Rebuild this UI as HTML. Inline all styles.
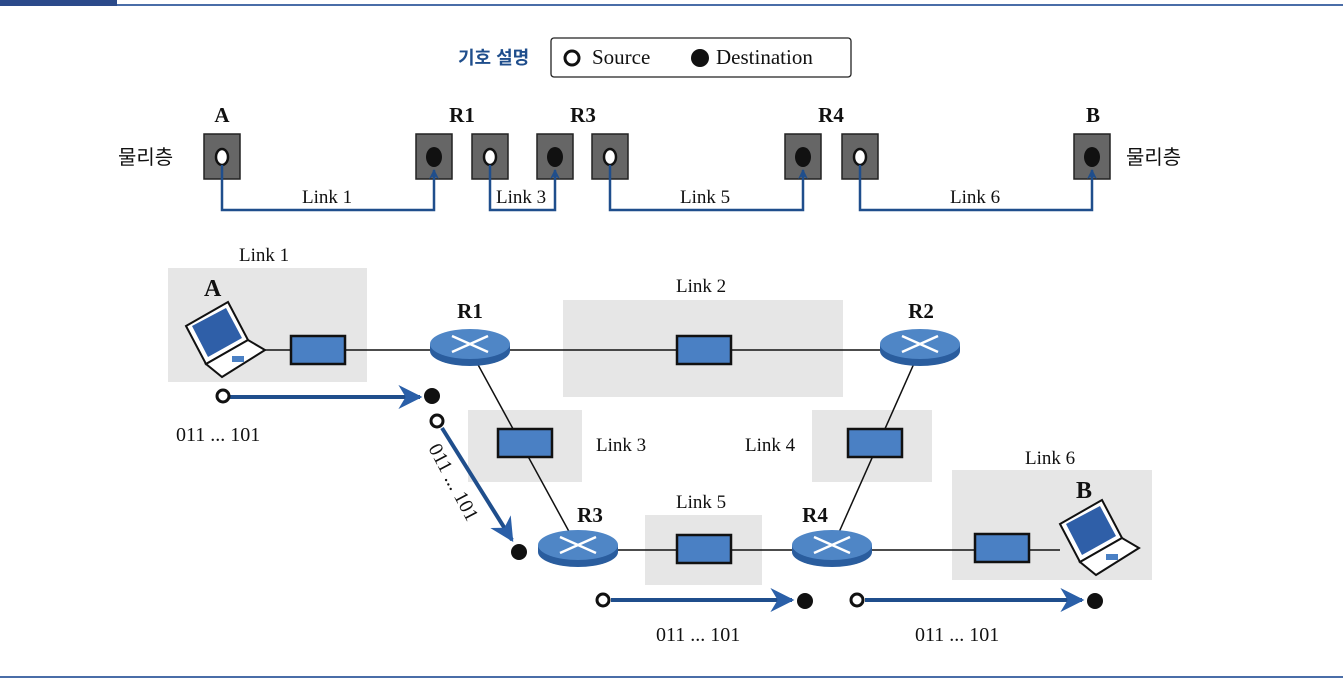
<!DOCTYPE html>
<html><head><meta charset="utf-8"><style>
html,body{margin:0;padding:0;background:#fff}
svg{display:block}
text{font-family:"Liberation Serif",serif;font-size:19px;fill:#111}
.k{font-family:"Liberation Sans","Noto Sans CJK KR",sans-serif;font-size:20px}
.b{font-weight:bold;font-size:21px}
</style></head><body>
<svg width="1343" height="692" viewBox="0 0 1343 692" xmlns="http://www.w3.org/2000/svg">
<defs>
<marker id="ah" viewBox="0 0 10 10" refX="9" refY="5" markerWidth="4" markerHeight="4" orient="auto"><path d="M0,0L10,5L0,10L3,5z" fill="#1f4e8c"/></marker>
<marker id="as" viewBox="0 0 10 10" refX="9" refY="5" markerWidth="6" markerHeight="6" orient="auto"><path d="M0,0L10,5L0,10L3,5z" fill="#2a5fa8"/></marker>
<g id="rt"><path d="M-40,0 v7 a40,15 0 0 0 80,0 v-7z" fill="#2a5d9e"/><ellipse cx="0" cy="0" rx="40" ry="15" fill="#4f86c6"/><path d="M-18,-8L18,8M-18,8L18,-8" stroke="#fff" stroke-width="2.5"/></g>
<g id="lb"><rect x="-27" y="-14" width="54" height="28" fill="#4a80c4" stroke="#111" stroke-width="2.5"/></g>
<g id="lt"><path d="M0,24 L42,0 L62,38 L20,62z" fill="#fff" stroke="#111" stroke-width="2"/><path d="M6,24 L40,6 L56,36 L22,55z" fill="#2f5fa8"/><path d="M20,62 L62,38 L79,48 L36,75z" fill="#fff" stroke="#111" stroke-width="2"/><rect x="46" y="54" width="12" height="6" fill="#4a80c4"/></g>
</defs>
<rect x="0" y="0" width="117" height="6" fill="#2b4a8a"/>
<line x1="117" y1="5" x2="1343" y2="5" stroke="#4a6da8" stroke-width="2"/>
<line x1="0" y1="677" x2="1343" y2="677" stroke="#4a6da8" stroke-width="2"/>

<text x="458" y="64" class="k" style="font-weight:bold;fill:#1f4e8c;font-size:18px">기호 설명</text>
<rect x="551" y="38" width="300" height="39" rx="3" fill="#fff" stroke="#222" stroke-width="1.3"/>
<circle cx="572" cy="58" r="7" fill="#fff" stroke="#111" stroke-width="3"/>
<text x="592" y="64" style="font-size:21px">Source</text>
<circle cx="700" cy="58" r="9" fill="#111"/>
<text x="716" y="64" style="font-size:21px">Destination</text>

<text x="222" y="122" text-anchor="middle" class="b">A</text>
<text x="462" y="122" text-anchor="middle" class="b">R1</text>
<text x="583" y="122" text-anchor="middle" class="b">R3</text>
<text x="831" y="122" text-anchor="middle" class="b">R4</text>
<text x="1093" y="122" text-anchor="middle" class="b">B</text>
<text x="118" y="164" class="k">물리층</text>
<text x="1126" y="164" class="k">물리층</text>
<g fill="#666" stroke="#222" stroke-width="1.5">
<rect x="204" y="134" width="36" height="45"/><rect x="416" y="134" width="36" height="45"/><rect x="472" y="134" width="36" height="45"/><rect x="537" y="134" width="36" height="45"/><rect x="592" y="134" width="36" height="45"/><rect x="785" y="134" width="36" height="45"/><rect x="842" y="134" width="36" height="45"/><rect x="1074" y="134" width="36" height="45"/>
</g>
<g fill="#fff" stroke="#111" stroke-width="2.5">
<ellipse cx="222" cy="157" rx="6" ry="8"/><ellipse cx="490" cy="157" rx="6" ry="8"/><ellipse cx="610" cy="157" rx="6" ry="8"/><ellipse cx="860" cy="157" rx="6" ry="8"/>
</g>
<g fill="#111">
<ellipse cx="434" cy="157" rx="8" ry="10"/><ellipse cx="555" cy="157" rx="8" ry="10"/><ellipse cx="803" cy="157" rx="8" ry="10"/><ellipse cx="1092" cy="157" rx="8" ry="10"/>
</g>
<g fill="none" stroke="#1f4e8c" stroke-width="2.5" marker-end="url(#ah)">
<path d="M222,165V210H434V170"/><path d="M490,165V210H555V170"/><path d="M610,165V210H803V170"/><path d="M860,165V210H1092V170"/>
</g>
<text x="302" y="203">Link 1</text><text x="496" y="203">Link 3</text><text x="680" y="203">Link 5</text><text x="950" y="203">Link 6</text>

<g fill="#e6e6e6">
<rect x="168" y="268" width="199" height="114"/><rect x="563" y="300" width="280" height="97"/><rect x="468" y="410" width="114" height="72"/><rect x="812" y="410" width="120" height="72"/><rect x="645" y="515" width="117" height="70"/><rect x="952" y="470" width="200" height="110"/>
</g>
<g stroke="#111" stroke-width="1.5">
<line x1="262" y1="350" x2="470" y2="350"/><line x1="470" y1="350" x2="920" y2="350"/><line x1="470" y1="350" x2="578" y2="548"/><line x1="920" y1="350" x2="832" y2="548"/><line x1="578" y1="550" x2="1060" y2="550"/>
</g>
<use href="#lb" x="318" y="350"/><use href="#lb" x="704" y="350"/><use href="#lb" x="525" y="443"/><use href="#lb" x="875" y="443"/><use href="#lb" x="704" y="549"/><use href="#lb" x="1002" y="548"/>
<use href="#rt" x="470" y="344"/><use href="#rt" x="920" y="344"/><use href="#rt" x="578" y="545"/><use href="#rt" x="832" y="545"/>
<use href="#lt" x="186" y="302"/><use href="#lt" x="1060" y="500"/>
<text x="204" y="296" class="b" style="font-size:24px">A</text><text x="1076" y="498" class="b" style="font-size:24px">B</text>
<text x="470" y="318" text-anchor="middle" class="b">R1</text><text x="921" y="318" text-anchor="middle" class="b">R2</text>
<text x="590" y="522" text-anchor="middle" class="b">R3</text><text x="815" y="522" text-anchor="middle" class="b">R4</text>
<text x="239" y="261">Link 1</text><text x="676" y="292">Link 2</text><text x="596" y="451">Link 3</text><text x="745" y="451">Link 4</text><text x="676" y="508">Link 5</text><text x="1025" y="464">Link 6</text>

<g stroke="#1f4e8c" stroke-width="4" fill="none" marker-end="url(#as)">
<line x1="230" y1="397" x2="420" y2="397"/><line x1="442" y1="428" x2="512" y2="540"/><line x1="611" y1="600" x2="792" y2="600"/><line x1="865" y1="600" x2="1082" y2="600"/>
</g>
<g fill="#fff" stroke="#111" stroke-width="3">
<circle cx="223" cy="396" r="6"/><circle cx="437" cy="421" r="6"/><circle cx="603" cy="600" r="6"/><circle cx="857" cy="600" r="6"/>
</g>
<g fill="#111"><circle cx="432" cy="396" r="8"/><circle cx="519" cy="552" r="8"/><circle cx="805" cy="601" r="8"/><circle cx="1095" cy="601" r="8"/></g>
<text x="176" y="441" style="font-size:20px">011 ...  101</text><text x="656" y="641" style="font-size:20px">011 ...  101</text><text x="915" y="641" style="font-size:20px">011 ...  101</text>
<text transform="translate(428,448) rotate(62)" style="font-size:20px">011 ...  101</text>
</svg>
</body></html>
